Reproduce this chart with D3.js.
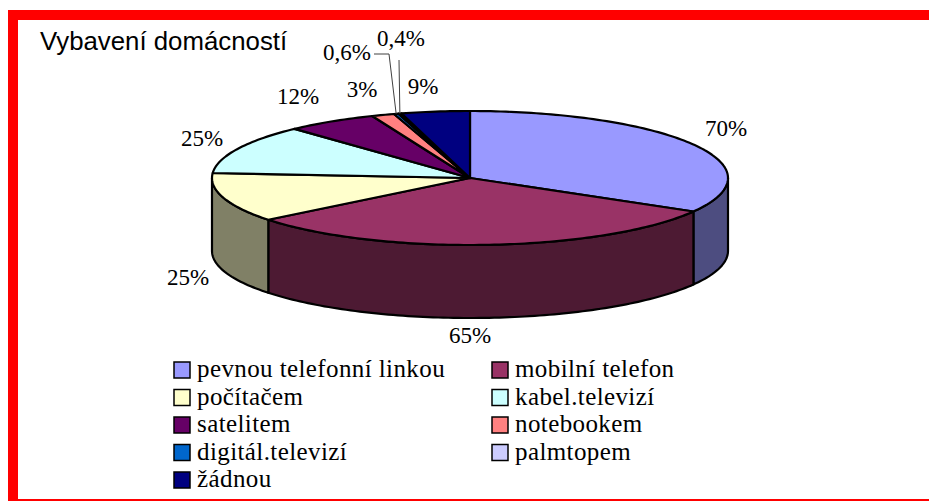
<!DOCTYPE html>
<html>
<head>
<meta charset="utf-8">
<script src="https://cdn.jsdelivr.net/npm/d3@7"></script>
<style>
    html, body { margin: 0; padding: 0; background: #fff; overflow: hidden; }
    svg { display: block; }
    text { fill: #000; }
</style>
</head>
<body>
<div id="main"></div>
<script>
const categories = ['pevnou telefonní linkou', 'mobilní telefon', 'počítačem', 'kabel.televizí', 'satelitem', 'notebookem', 'digitál.televizí', 'palmtopem', 'žádnou'];
const values = [70, 65, 25, 25, 12, 3, 0.6, 0.4, 9];
const valueLabels = ['70%', '65%', '25%', '25%', '12%', '3%', '0,6%', '0,4%', '9%'];
const colors = ['#9999ff', '#993366', '#ffffcc', '#ccffff', '#660066', '#ff8080', '#0066cc', '#ccccff', '#000080'];

// label centres, moved by hand away from the rim like the original
const labelPos = [[726, 128], [470, 335], [188, 277], [202, 138], [298, 96], [362, 89], [347, 52], [401, 38], [423, 86]];

const WIDTH = 929, HEIGHT = 501;
const CX = 470, CY = 178, RX = 258, RY = 67, DEPTH = 73;

const svg = d3.select('#main').append('svg').attr('width', WIDTH).attr('height', HEIGHT);

// frame
svg.append('rect').attr('x', 8).attr('y', 10).attr('width', 921).attr('height', 10).attr('fill', '#ff0000');
svg.append('rect').attr('x', 8).attr('y', 10).attr('width', 10).attr('height', 491).attr('fill', '#ff0000');
svg.append('rect').attr('x', 8).attr('y', 499).attr('width', 921).attr('height', 2).attr('fill', '#ff0000');

svg.append('text')
    .text('Vybavení domácností')
    .attr('x', 40).attr('y', 50)
    .attr('font-family', 'Liberation Sans').attr('font-size', 25.8);

const pie = d3.pie().sort(null).value((d) => d.value).startAngle(0).endAngle(2 * Math.PI);
const slices = pie(categories.map((name, i) => ({name, value: values[i], color: colors[i], label: valueLabels[i]})));

const scaleX = d3.scaleLinear().domain([-1, 1]).range([CX - RX, CX + RX]);
const scaleY = d3.scaleLinear().domain([-1, 1]).range([CY - RY, CY + RY]);
const rim = (a, dy = 0) => [scaleX(Math.sin(a)), scaleY(-Math.cos(a)) + dy];
const arcPoints = (a0, a1, dy = 0) => {
    const n = Math.max(2, Math.ceil((a1 - a0) / 0.02));
    return d3.range(n + 1).map((k) => rim(a0 + (a1 - a0) * k / n, dy));
};
const line = d3.line();
const sideColor = (c) => {
    const rgb = d3.rgb(c);
    return d3.rgb(rgb.r * 0.5, rgb.g * 0.5, rgb.b * 0.5).formatHex();
};

const chart = svg.append('g').attr('stroke', '#000').attr('stroke-width', 2.2).attr('stroke-linejoin', 'round');

// sides, only the front half of the rim shows
slices.forEach((s) => {
    const a0 = Math.max(s.startAngle, Math.PI / 2);
    const a1 = Math.min(s.endAngle, 3 * Math.PI / 2);
    if (a1 <= a0) return;
    const pts = arcPoints(a0, a1).concat(arcPoints(a0, a1, DEPTH).reverse());
    chart.append('path').attr('d', line(pts) + 'Z').attr('fill', sideColor(s.data.color));
});

// top face
slices.forEach((s) => {
    const pts = [[CX, CY]].concat(arcPoints(s.startAngle, s.endAngle));
    chart.append('path').attr('d', line(pts) + 'Z').attr('fill', s.data.color);
});

// value labels
svg.append('g').selectAll('text').data(slices).enter().append('text')
    .text((d) => d.data.label)
    .attr('x', (d, i) => labelPos[i][0])
    .attr('y', (d, i) => labelPos[i][1])
    .attr('text-anchor', 'middle')
    .attr('dominant-baseline', 'central')
    .attr('font-family', 'Liberation Serif').attr('font-size', 23);

// leader lines for the two tiny slices
const leaders = svg.append('g').attr('fill', 'none').attr('stroke', '#404040').attr('stroke-width', 1);
const mid = (s) => (s.startAngle + s.endAngle) / 2;
leaders.append('path').attr('d', line([[374, 54], [389, 54], rim(mid(slices[6]))]));
leaders.append('path').attr('d', line([[399, 60], rim(mid(slices[7]))]));

// legend, two columns filled row by row
const legendX = d3.scaleOrdinal().domain([0, 1]).range([174, 492]);
const legendY = d3.scalePoint().domain(d3.range(5)).range([370, 480]);
const legend = svg.append('g').selectAll('g').data(categories).enter().append('g')
    .attr('transform', (d, i) => `translate(${legendX(i % 2)}, ${legendY(Math.floor(i / 2))})`);
legend.append('rect')
    .attr('x', 0).attr('y', -8).attr('width', 16).attr('height', 16)
    .attr('fill', (d, i) => colors[i]).attr('stroke', '#000').attr('stroke-width', 1.5);
legend.append('text')
    .text((d) => d)
    .attr('x', 23).attr('y', 7)
    .attr('font-family', 'Liberation Serif').attr('font-size', 25)
    .attr('letter-spacing', 0.4);
</script>
</body>
</html>
